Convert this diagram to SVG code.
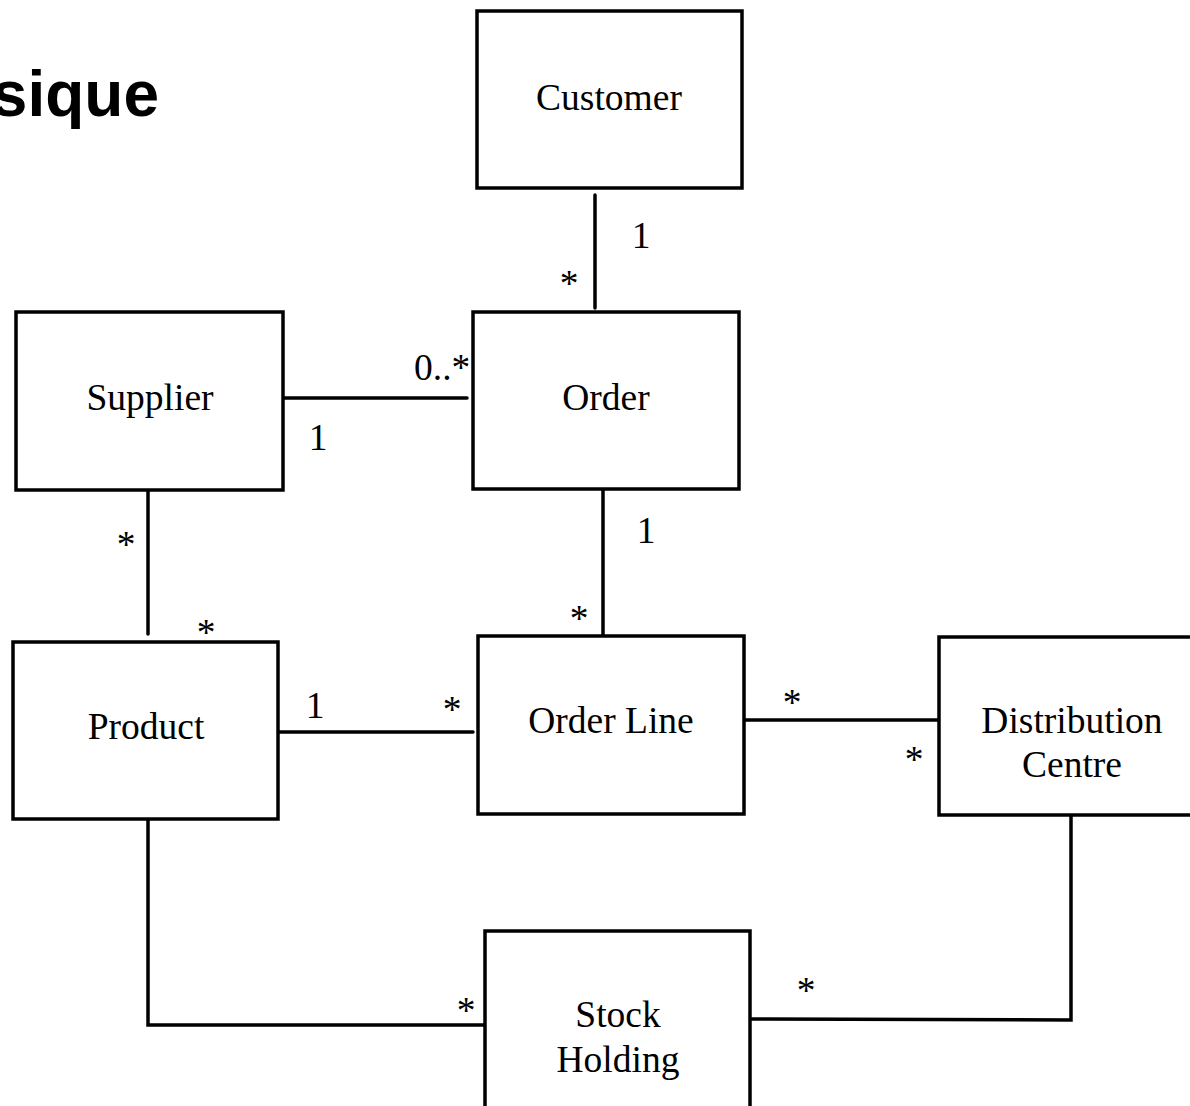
<svg xmlns="http://www.w3.org/2000/svg" width="1190" height="1106" viewBox="0 0 1190 1106">
<style>
.box{fill:#fff;stroke:#000;stroke-width:3.5}
.lbl{font-family:"Liberation Serif","Times New Roman",serif;font-size:37.5px;fill:#000}
.c{text-anchor:middle}
.conn{fill:none;stroke:#000;stroke-width:3.5;stroke-linecap:round}
.title{font-family:"Liberation Sans",Arial,sans-serif;font-weight:bold;font-size:64px;fill:#000;text-anchor:end}
</style>
<rect width="1190" height="1106" fill="#fff"/>
<text class="title" x="159" y="116">sique</text>
<g id="connectors">
<line class="conn" x1="595" y1="195" x2="595" y2="308"/>
<line class="conn" x1="281" y1="398" x2="467" y2="398"/>
<line class="conn" x1="148" y1="489" x2="148" y2="634"/>
<line class="conn" x1="603" y1="489" x2="603" y2="637"/>
<line class="conn" x1="274" y1="732" x2="473" y2="732"/>
<line class="conn" x1="742" y1="720" x2="939" y2="720"/>
<polyline class="conn" points="148,819 148,1025 487,1025"/>
<polyline class="conn" points="1071,815 1071,1020 750,1019"/>
<text class="lbl c" x="641" y="248">1</text>
<text class="lbl c" x="569" y="296">*</text>
<text class="lbl" x="414" y="380">0..*</text>
<text class="lbl c" x="318" y="450">1</text>
<text class="lbl c" x="126" y="557">*</text>
<text class="lbl c" x="206" y="645">*</text>
<text class="lbl c" x="646" y="543">1</text>
<text class="lbl c" x="579" y="631">*</text>
<text class="lbl c" x="315" y="718">1</text>
<text class="lbl c" x="452" y="722">*</text>
<text class="lbl c" x="792" y="715">*</text>
<text class="lbl c" x="914" y="772">*</text>
<text class="lbl c" x="466" y="1023">*</text>
<text class="lbl c" x="806" y="1003">*</text>
</g>
<g id="customer">
<rect class="box" x="477" y="11" width="265" height="177"/>
<text class="lbl c" x="609" y="110">Customer</text>
</g>
<g id="order">
<rect class="box" x="473" y="312" width="266" height="177"/>
<text class="lbl c" x="606" y="410">Order</text>
</g>
<g id="supplier">
<rect class="box" x="16" y="312" width="267" height="178"/>
<text class="lbl c" x="150" y="410">Supplier</text>
</g>
<g id="product">
<rect class="box" x="13" y="642" width="265" height="177"/>
<text class="lbl c" x="146" y="739">Product</text>
</g>
<g id="order-line">
<rect class="box" x="478" y="636" width="266" height="178"/>
<text class="lbl c" x="611" y="733">Order Line</text>
</g>
<g id="distribution-centre">
<rect class="box" x="939" y="637" width="272" height="178"/>
<text class="lbl c" x="1072" y="733">Distribution</text>
<text class="lbl c" x="1072" y="777">Centre</text>
</g>
<g id="stock-holding">
<rect class="box" x="485" y="931" width="265" height="200"/>
<text class="lbl c" x="618" y="1027">Stock</text>
<text class="lbl c" x="618" y="1072">Holding</text>
</g>
</svg>
